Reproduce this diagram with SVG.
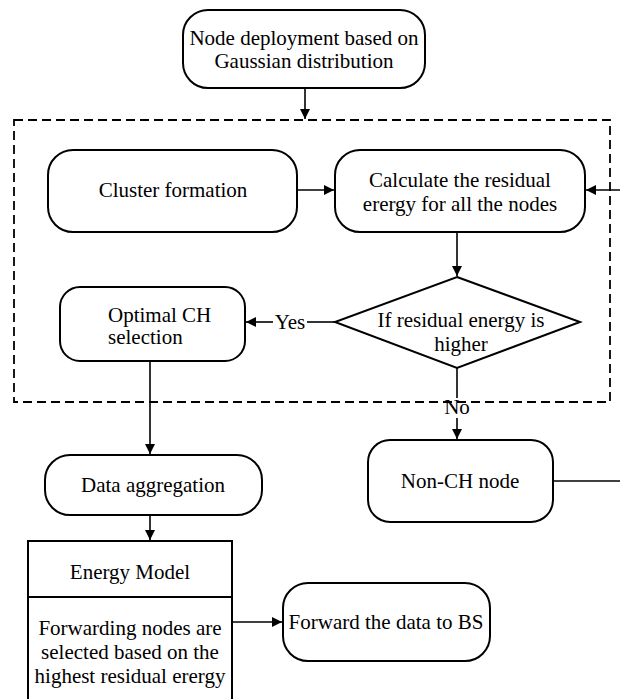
<svg xmlns="http://www.w3.org/2000/svg" width="620" height="699" viewBox="0 0 620 699">
<style>
.box{fill:#fff;stroke:#000;stroke-width:2}
.ln{fill:none;stroke:#000;stroke-width:1.6}
.dash{fill:none;stroke:#000;stroke-width:1.8;stroke-dasharray:9,5}
text{font-family:"Liberation Serif","Times New Roman",serif;font-size:21px;fill:#000}
.c{text-anchor:middle}
</style>
<defs>
<marker id="ah" viewBox="0 0 10 10" refX="10" refY="5" markerWidth="10" markerHeight="10" markerUnits="userSpaceOnUse" orient="auto">
<path d="M0,0 L10,5 L0,10 z" fill="#000"/>
</marker>
</defs>
<rect class="dash" x="14" y="120" width="596" height="282"/>
<g id="connectors">
<line class="ln" x1="305" y1="89" x2="305" y2="119" marker-end="url(#ah)"/>
<line class="ln" x1="297" y1="190" x2="334" y2="190" marker-end="url(#ah)"/>
<line class="ln" x1="620" y1="190" x2="586" y2="190" marker-end="url(#ah)"/>
<line class="ln" x1="457" y1="232" x2="457" y2="276" marker-end="url(#ah)"/>
<line class="ln" x1="335" y1="322" x2="307" y2="322"/>
<line class="ln" x1="273" y1="322" x2="246" y2="322" marker-end="url(#ah)"/>
<text x="290" y="329" class="c">Yes</text>
<line class="ln" x1="457" y1="368" x2="457" y2="398"/>
<text x="457" y="414" class="c">No</text>
<line class="ln" x1="457" y1="418" x2="457" y2="439" marker-end="url(#ah)"/>
<line class="ln" x1="553" y1="481" x2="620" y2="481"/>
<line class="ln" x1="150" y1="361" x2="150" y2="454" marker-end="url(#ah)"/>
<line class="ln" x1="150" y1="515" x2="150" y2="540" marker-end="url(#ah)"/>
<line class="ln" x1="232" y1="622" x2="282" y2="622" marker-end="url(#ah)"/>
</g>
<g id="n-deploy">
<rect class="box" x="183" y="10" width="242" height="78" rx="25"/>
<text x="304" y="45" class="c">Node deployment based on</text>
<text x="304" y="68" class="c">Gaussian distribution</text>
</g>
<g id="n-cluster">
<rect class="box" x="48" y="150" width="249" height="82" rx="25"/>
<text x="173" y="197" class="c">Cluster formation</text>
</g>
<g id="n-calc">
<rect class="box" x="335" y="150" width="250" height="82" rx="25"/>
<text x="460" y="187" class="c">Calculate the residual</text>
<text x="460" y="211" class="c">erergy for all the nodes</text>
</g>
<g id="n-decision">
<polygon class="box" points="457,277 580,322 457,368 335,322"/>
<text x="461" y="327" class="c">If residual energy is</text>
<text x="461" y="351" class="c">higher</text>
</g>
<g id="n-optimal">
<rect class="box" x="60" y="287" width="185" height="74" rx="20"/>
<text x="108" y="322">Optimal CH</text>
<text x="108" y="344">selection</text>
</g>
<g id="n-aggregation">
<rect class="box" x="45" y="455" width="217" height="60" rx="25"/>
<text x="153" y="492" class="c">Data aggregation</text>
</g>
<g id="n-nonch">
<rect class="box" x="368" y="440" width="185" height="82" rx="22"/>
<text x="460" y="488" class="c">Non-CH node</text>
</g>
<g id="n-energy">
<rect class="box" x="28" y="541" width="204" height="170"/>
<line class="ln" x1="28" y1="597" x2="232" y2="597" style="stroke-width:2"/>
<text x="130" y="579" class="c">Energy Model</text>
<text x="130" y="635" class="c">Forwarding nodes are</text>
<text x="130" y="659" class="c">selected based on the</text>
<text x="130" y="683" class="c">highest residual erergy</text>
</g>
<g id="n-forward">
<rect class="box" x="283" y="583" width="207" height="78" rx="25"/>
<text x="386" y="629" class="c">Forward the data to BS</text>
</g>
</svg>
